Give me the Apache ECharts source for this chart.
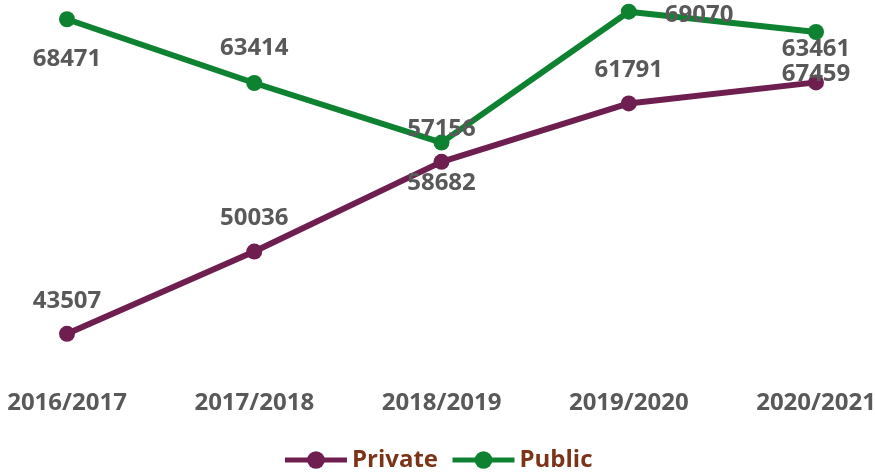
<!DOCTYPE html>
<html>
<head>
<meta charset="utf-8">
<title>Private vs Public</title>
<script src="https://cdn.jsdelivr.net/npm/echarts@6/dist/echarts.min.js"></script>
<style>
  html, body { margin: 0; padding: 0; background: #fff; }
  #chart1 { width: 875px; height: 474px; }
</style>
</head>
<body>
<div id="chart1"></div>
<script>
var categories = ['2016/2017', '2017/2018', '2018/2019', '2019/2020', '2020/2021'];
var privateValues = [43507, 50036, 57156, 61791, 63461];
var publicValues = [68471, 63414, 58682, 69070, 67459];

var labelColor = '#595959';
var fontFamily = '"Open Sans", "Noto Sans", sans-serif';

window.onload = function() {
    chart1();
}

function chart1() {
    var myChart = echarts.init(document.getElementById('chart1'));

    // label placement for the green line (like the original, not all on top)
    var publicLabel = [
        { position: 'bottom', distance: 20 },
        { position: 'top', distance: 15 },
        { position: 'bottom', distance: 21 },
        { position: 'right', distance: 28, offset: [0, 3] },
        { position: 'bottom', distance: 22 }
    ];

    var publicData = publicValues.map(function(v, i) {
        return { value: v, label: publicLabel[i] };
    });

    var option = {
        animation: false,
        grid: {
            left: 67,
            right: 59,
            top: 0,
            bottom: 96,
            outerBoundsMode: 'none'
        },
        legend: {
            top: 443,
            left: 'center',
            itemWidth: 62,
            itemHeight: 22,
            itemGap: 12,
            data: ['Private', 'Public'],
            lineStyle: { width: 5 },
            textStyle: {
                color: '#7b3418',
                fontSize: 24,
                fontWeight: 'bold',
                fontFamily: fontFamily
            }
        },
        xAxis: {
            type: 'category',
            boundaryGap: false,
            data: categories,
            axisLine: { show: false },
            axisTick: { show: false },
            axisLabel: {
                margin: 13,
                color: labelColor,
                fontSize: 24,
                fontWeight: 'bold',
                fontFamily: fontFamily
            }
        },
        yAxis: {
            type: 'value',
            min: 40000,
            max: 70000,
            show: false,
            splitLine: { show: false }
        },
        series: [{
            name: 'Private',
            type: 'line',
            data: privateValues,
            symbol: 'circle',
            symbolSize: 16,
            lineStyle: { width: 6, color: '#6e1f50' },
            itemStyle: { color: '#6e1f50' },
            label: {
                show: true,
                position: 'top',
                distance: 13,
                color: labelColor,
                fontSize: 24,
                fontWeight: 'bold',
                fontFamily: fontFamily
            }
        }, {
            name: 'Public',
            type: 'line',
            data: publicData,
            symbol: 'circle',
            symbolSize: 16,
            lineStyle: { width: 6, color: '#0f8232' },
            itemStyle: { color: '#0f8232' },
            label: {
                show: true,
                color: labelColor,
                fontSize: 24,
                fontWeight: 'bold',
                fontFamily: fontFamily
            }
        }]
    };

    myChart.setOption(option);
}
</script>
</body>
</html>
